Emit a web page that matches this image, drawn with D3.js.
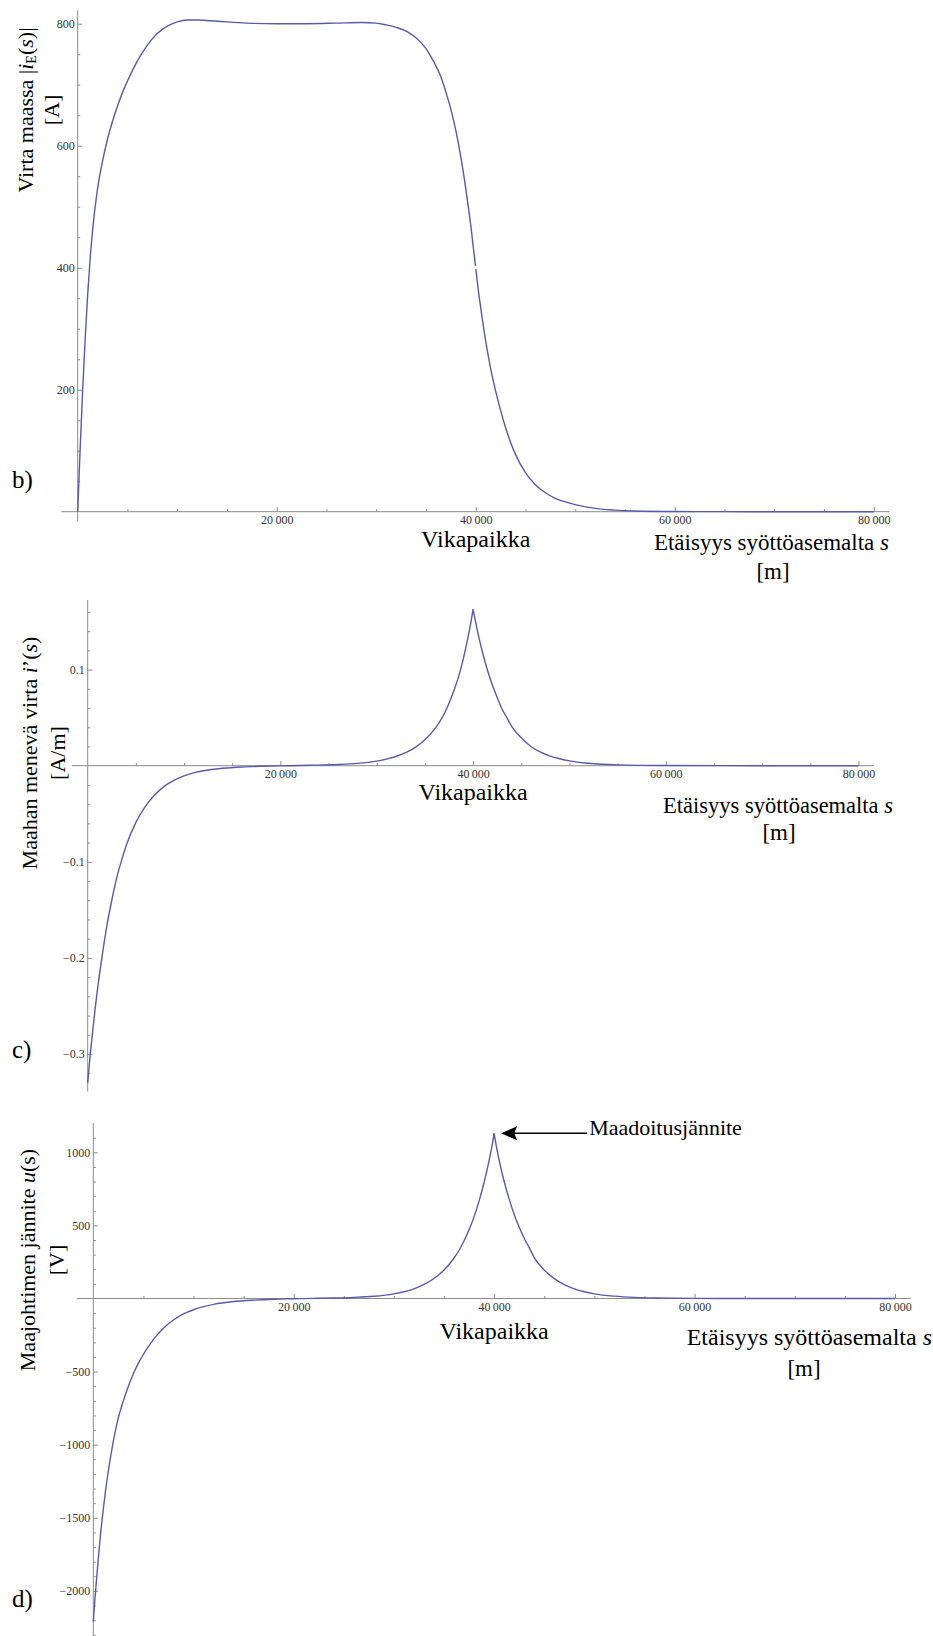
<!DOCTYPE html>
<html>
<head>
<meta charset="utf-8">
<script src="https://cdn.jsdelivr.net/npm/d3@7"></script>
<style>
  body { margin: 0; background: #fff; }
  svg, svg text { font-family: "Liberation Serif", "Times New Roman", Tinos, "DejaVu Serif", serif; }
  text { fill: #000; }
  .tick text { font-size: 12px; fill: #333; }
  .tick line { stroke: #8c8c8c; }
</style>
</head>
<body>
<svg id="chart" width="933" height="1636"></svg>
<script>
// Shared x ticks (distance from the feeding substation, m)
var xMajorTicks = [20000, 40000, 60000, 80000];
var faultLocation = 40000;

// b) Current in the earth |iE(s)| [A]
var distB = [0, 250, 500, 750, 1000, 1250, 1500, 2000, 2500, 3000, 3500, 4000, 4500, 5000, 6000,
  7000, 8000, 9000, 10000, 11000, 12000, 14000, 17000, 20000, 23000, 26000, 28500, 30000, 31000,
  32000, 33000, 33500, 34000, 34500, 35000, 35500, 36000, 36500, 37000, 37500, 38000, 38500,
  39000, 39500, 40000,
  40250, 40500, 41000, 41500, 42000, 42500, 43000, 43500, 44000, 45000, 46000, 47000, 48000,
  49000, 50000, 52000, 54000, 56000, 60000, 65000, 70000, 80000];
var currentB = [0, 105, 200, 283, 355, 415, 462, 530, 575, 611, 640, 665, 687, 706, 739,
  765, 784, 796, 803, 806, 806, 804, 801, 800, 800, 801, 802, 801, 798,
  794, 788, 783, 777, 769, 759, 746, 731, 713, 688, 660, 625, 582,
  530, 470, 400,
  365, 335, 280, 235, 198, 166, 138, 114, 94, 64, 44, 31, 22,
  16, 11.5, 5.5, 2.5, 1.2, 0.3, 0.05, 0, 0];
var yTicksB = [200, 400, 600, 800];

// c) Current flowing into the earth i'(s) [A/m]
var distC = [0, 250, 500, 750, 1000, 1500, 2000, 2500, 3000, 3500, 4000, 5000, 6000, 7000, 8000,
  9000, 10000, 11000, 12000, 14000, 16000, 18000, 20000, 23000, 26000, 28000, 30000, 31000,
  32000, 33000, 34000, 35000, 36000, 36500, 37000, 37500, 38000, 38500, 39000, 39500, 39750, 40000,
  40250, 40500, 41000, 41500, 42000, 42500, 43000, 43500, 44000, 45000, 46000, 47000, 48000,
  49000, 50000, 52000, 55000, 60000, 70000, 80000];
var leakC = [-0.330, -0.302, -0.278, -0.255, -0.234, -0.198, -0.166, -0.140, -0.117, -0.099, -0.083, -0.059, -0.042, -0.030, -0.021,
  -0.0150, -0.0106, -0.0075, -0.0053, -0.0027, -0.0013, -0.0006, -0.0002, 0.0004, 0.0012, 0.0024, 0.0048, 0.0068,
  0.0096, 0.0135, 0.019, 0.027, 0.038, 0.045, 0.054, 0.065, 0.078, 0.093, 0.112, 0.135, 0.148, 0.1627,
  0.150, 0.138, 0.117, 0.099, 0.084, 0.071, 0.059, 0.050, 0.041, 0.029, 0.020, 0.014, 0.010,
  0.0072, 0.0050, 0.0025, 0.0009, 0.0002, 0, 0];
var yTicksC = [-0.3, -0.2, -0.1, 0.1];

// d) Earth-wire voltage u(s) [V]
var distD = [0, 170, 340, 500, 670, 1000, 1250, 1500, 2000, 2500, 3000, 3500, 4000, 4500, 5000, 6000,
  7000, 8000, 9000, 10000, 11000, 12000, 14000, 16000, 18000, 20000, 22000, 24000, 26000, 28000,
  30000, 31000, 32000, 33000, 34000, 35000, 36000, 36500, 37000, 37500, 38000, 38500, 39000, 39500, 39750, 40000,
  40250, 40500, 41000, 41500, 42000, 42500, 43000, 43500, 44000, 45000, 46000, 47000, 48000,
  49000, 50000, 52000, 54000, 56000, 58000, 60000, 65000, 70000, 80000];
var voltageD = [-2210, -2050, -1906, -1780, -1650, -1440, -1300, -1180, -975, -815, -700, -600, -515, -442, -382, -280,
  -203, -147, -106, -77, -56, -40, -21, -11, -5, -2, 1, 3, 7, 15,
  32, 46, 66, 96, 137, 195, 277, 330, 395, 470, 560, 668, 795, 945, 1030, 1130,
  1030, 945, 800, 680, 575, 487, 412, 348, 280, 195, 136, 95, 66,
  46, 32, 16, 7.5, 3.5, 1.7, 0.8, 0.2, 0, 0];
var yTicksD = [-2000, -1500, -1000, -500, 500, 1000];

var svg = d3.select("#chart");

var locale = d3.formatLocale({decimal: ".", thousands: "\u2009", grouping: [3], currency: ["", ""], minus: "\u2212"});
var xFormat = locale.format(",");
var yFormat = locale.format("");
var serif = "'Liberation Serif', 'Times New Roman', Tinos, 'DejaVu Serif', serif";

var panels = [
  {
    dist: distB, values: currentB, yTicks: yTicksB, minorStep: 50, minorRange: [0, 800],
    xRange: [77.7, 873.7], yDomain: [0, 800], yRange: [511.7, 23.7], yAxisExtent: [-16, 822],
    gapAtFault: true,
    letter: "b)", letterPos: [12, 488],
    yTitle: [[{t: "Virta maassa |"}, {t: "i", i: true}, {t: "E", sub: true}, {t: "("}, {t: "s", i: true}, {t: ")|"}], [{t: "[A]"}]],
    yTitlePos: {cy: 110, x1: 33, x2: 59},
    vika: {dy: 35.5}, etaisyys: {right: 889, dy: 38.5, size: 23}, unit: {x: 773, dy: 67.5}
  },
  {
    dist: distC, values: leakC, yTicks: yTicksC, minorStep: 0.02, minorRange: [-0.32, 0.16],
    xRange: [87.7, 858.5], yDomain: [0, 0.1], yRange: [765.7, 669.6], yAxisExtent: [-0.339, 0.1724],
    letter: "c)", letterPos: [12, 1058],
    yTitle: [[{t: "Maahan menevä virta "}, {t: "i", i: true}, {t: "\u2019("}, {t: "s", i: true}, {t: ")"}], [{t: "[A/m]"}]],
    yTitlePos: {cy: 753, x1: 37, x2: 65},
    vika: {dy: 34.5}, etaisyys: {right: 893, dy: 47.3, size: 22.5}, unit: {x: 779, dy: 74.5}
  },
  {
    dist: distD, values: voltageD, yTicks: yTicksD, minorStep: 100, minorRange: [-2300, 1100],
    xRange: [93.3, 895], yDomain: [0, 1000], yRange: [1298.5, 1152.3], yAxisExtent: [-2340, 1199],
    annotate: true,
    letter: "d)", letterPos: [12, 1607],
    yTitle: [[{t: "Maajohtimen jännite "}, {t: "u", i: true}, {t: "(s)"}], [{t: "[V]"}]],
    yTitlePos: {cy: 1260, x1: 35, x2: 64},
    vika: {dy: 40.5}, etaisyys: {right: 932, dy: 46.5, size: 24}, unit: {x: 804, dy: 77.5}
  }
];

panels.forEach(function(p) {
  var x = d3.scaleLinear().domain([0, 80000]).range(p.xRange);
  var y = d3.scaleLinear().domain(p.yDomain).range(p.yRange);
  var g = svg.append("g").attr("font-family", serif);
  var y0 = y(0), x0 = x(0);

  // axis lines, overshooting a bit like the original
  g.append("line")
    .attr("x1", x(-1650)).attr("x2", x(81600))
    .attr("y1", y0).attr("y2", y0)
    .attr("stroke", "#8c8c8c").attr("stroke-width", 1);
  g.append("line")
    .attr("x1", x0).attr("x2", x0)
    .attr("y1", y(p.yAxisExtent[0])).attr("y2", y(p.yAxisExtent[1]))
    .attr("stroke", "#8c8c8c").attr("stroke-width", 1);

  // x ticks: minor every 5000, major every 20000
  var xMinor = d3.range(5000, 80001, 5000).filter(function(v) { return v % 20000 !== 0; });
  g.append("g").attr("transform", "translate(0," + y0 + ")")
    .call(d3.axisBottom(x).tickValues(xMinor).tickSize(-2.5).tickFormat(""))
    .call(function(a) { a.select(".domain").remove(); });
  g.append("g").attr("transform", "translate(0," + y0 + ")")
    .call(d3.axisBottom(x).tickValues(xMajorTicks).tickSize(-4.5).tickPadding(4).tickFormat(xFormat))
    .call(function(a) { a.select(".domain").remove(); a.attr("font-family", serif); });

  // y ticks
  var yMinor = d3.range(p.minorRange[0], p.minorRange[1] + p.minorStep / 2, p.minorStep)
    .filter(function(v) {
      return Math.abs(v) > 1e-9 && !p.yTicks.some(function(t) { return Math.abs(t - v) < p.minorStep / 10; });
    });
  g.append("g").attr("transform", "translate(" + x0 + ",0)")
    .call(d3.axisLeft(y).tickValues(yMinor).tickSize(-2.5).tickFormat(""))
    .call(function(a) { a.select(".domain").remove(); });
  g.append("g").attr("transform", "translate(" + x0 + ",0)")
    .call(d3.axisLeft(y).tickValues(p.yTicks).tickSize(-4.5).tickPadding(3).tickFormat(yFormat))
    .call(function(a) { a.select(".domain").remove(); a.attr("font-family", serif); });

  // the curve, drawn in two halves so the fault point stays a sharp cusp
  var pts = p.dist.map(function(d, i) { return [d, p.values[i]]; });
  var line = d3.line()
    .x(function(d) { return x(d[0]); })
    .y(function(d) { return y(d[1]); })
    .curve(d3.curveMonotoneX);
  var halves = [
    pts.filter(function(d) { return d[0] <= faultLocation; }),
    pts.filter(function(d) { return d[0] >= faultLocation; })
  ];
  g.selectAll("path.curve")
    .data(halves)
    .enter().append("path")
    .attr("class", "curve")
    .attr("d", line)
    .attr("fill", "none")
    .attr("stroke", "#5a5aaa")
    .attr("stroke-width", 1.4)
    .attr("stroke-linejoin", "round");

  if (p.gapAtFault) {
    var fi = p.dist.indexOf(faultLocation);
    g.append("rect")
      .attr("x", x(faultLocation) - 3).attr("y", y(p.values[fi]) - 1.5)
      .attr("width", 6).attr("height", 3)
      .attr("fill", "#fff");
  }

  // panel letter
  g.append("text").text(p.letter)
    .attr("x", p.letterPos[0]).attr("y", p.letterPos[1])
    .style("font-size", "25px");

  // y title (rotated, two lines)
  p.yTitle.forEach(function(parts, li) {
    var tx = li === 0 ? p.yTitlePos.x1 : p.yTitlePos.x2;
    var t = g.append("text")
      .attr("transform", "translate(" + tx + "," + p.yTitlePos.cy + ") rotate(-90)")
      .attr("text-anchor", "middle")
      .style("font-size", "22px");
    parts.forEach(function(s) {
      var ts = t.append("tspan").text(s.t);
      if (s.i) ts.style("font-style", "italic");
      if (s.sub) ts.style("font-size", "14px").attr("baseline-shift", "-3");
    });
  });

  // x titles
  g.append("text").text("Vikapaikka")
    .attr("x", x(faultLocation)).attr("y", y0 + p.vika.dy)
    .attr("text-anchor", "middle")
    .style("font-size", "24px");
  var et = g.append("text")
    .attr("x", p.etaisyys.right).attr("y", y0 + p.etaisyys.dy)
    .attr("text-anchor", "end")
    .style("font-size", p.etaisyys.size + "px");
  et.append("tspan").text("Etäisyys syöttöasemalta ");
  et.append("tspan").text("s").style("font-style", "italic");
  g.append("text").text("[m]")
    .attr("x", p.unit.x).attr("y", y0 + p.unit.dy)
    .attr("text-anchor", "middle")
    .style("font-size", "23px");

  // arrow pointing at the peak
  if (p.annotate) {
    var fiD = p.dist.indexOf(faultLocation);
    var px = x(faultLocation), py = y(p.values[fiD]);
    var tip = px + 7;
    g.append("line")
      .attr("x1", tip + 12).attr("x2", px + 93)
      .attr("y1", py).attr("y2", py)
      .attr("stroke", "#000").attr("stroke-width", 1.6);
    g.append("path")
      .attr("d", "M" + tip + "," + py + " L" + (tip + 16) + "," + (py - 7) + " L" + (tip + 13) + "," + py + " L" + (tip + 16) + "," + (py + 7) + " Z")
      .attr("fill", "#000");
    g.append("text").text("Maadoitusjännite")
      .attr("x", px + 95).attr("y", py + 2)
      .style("font-size", "22px");
  }
});
</script>
</body>
</html>
